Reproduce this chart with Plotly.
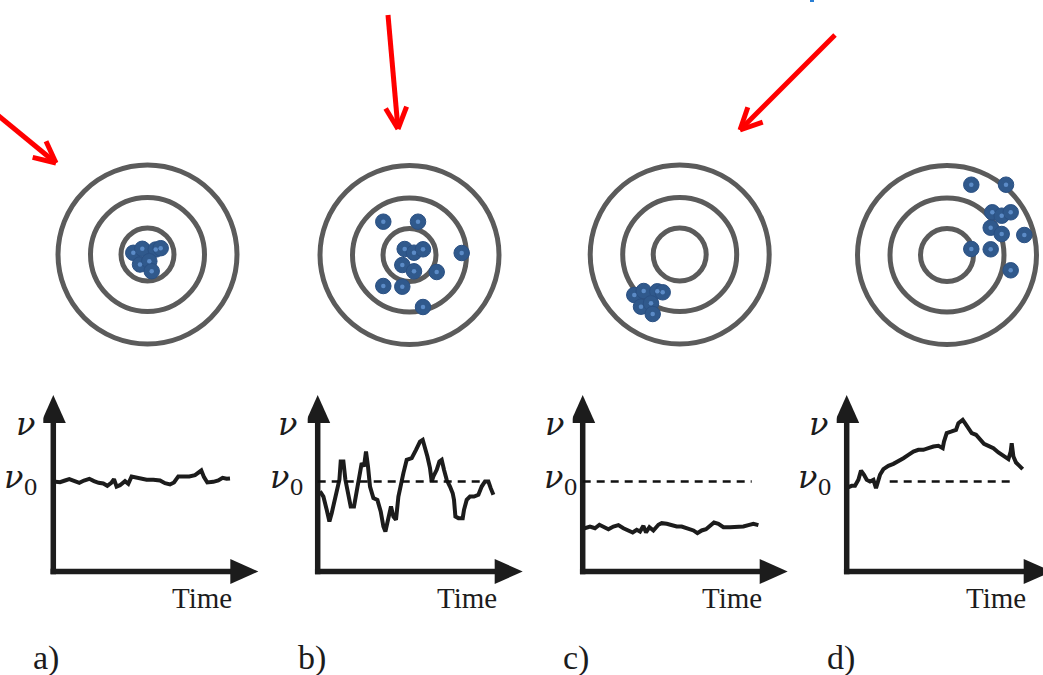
import math
import plotly.graph_objects as go

W, H = 1043, 675

# ---------------- data ----------------
# target rings (radius, same units as the hit offsets)
ring_radii = [89.5, 57.0, 26.5]

# hit positions relative to the bullseye (x right, y up)
hits_a_x = [-14.2, -5.2, 8.2, 13.2, -7.5, 1.8, 4.2]
hits_a_y = [1.7, 5.7, 5.0, 6.3, -10.0, -6.7, -16.7]

hits_b_x = [-26.2, 8.5, -4.8, 4.5, 13.5, 52.2, -7.2, 4.5, 27.2, -26.2, -7.2, 13.5]
hits_b_y = [33.3, 33.3, 6.0, 2.3, 5.7, 2.0, -10.0, -16.3, -17.0, -31.0, -31.7, -52.0]

hits_c_x = [-45.4, -36.0, -22.4, -17.0, -38.7, -28.7, -27.0]
hits_c_y = [-40.5, -36.5, -36.8, -37.8, -52.2, -48.8, -59.5]

hits_d_x = [24.3, 59.0, 45.3, 54.7, 63.7, 43.7, 54.7, 77.3, 24.3, 43.7, 63.7, 102.0]
hits_d_y = [70.3, 70.3, 42.7, 39.3, 42.7, 27.3, 21.0, 20.0, 6.0, 5.7, -15.3, 38.0]

# time series (nu0 = 1)
time_a = [0.0, 1.7, 6.7, 11.7, 16.0, 20.7, 26.0, 30.7, 36.0, 40.7, 45.3, 50.0, 54.0, 58.3, 60.7,
          63.3, 66.7, 71.7, 75.0, 78.3, 83.3, 88.3, 93.3, 100.0, 106.7, 111.7, 116.7, 120.7,
          125.0, 130.0, 136.0, 141.7, 146.0, 148.0, 150.7, 154.0, 160.0, 165.0, 169.3, 173.3, 176.7]
nu_a = [1.000, 1.000, 0.993, 1.011, 1.026, 1.007, 0.985, 1.011, 1.030, 1.004, 0.985, 0.978, 0.952,
        0.989, 1.026, 0.944, 0.959, 1.004, 0.974, 1.056, 1.041, 1.026, 1.019, 1.019, 1.011,
        0.981, 0.967, 0.989, 1.056, 1.056, 1.056, 1.070, 1.107, 1.122, 1.048, 0.989, 0.996,
        1.011, 1.041, 1.030, 1.033]

time_b = [2.3, 5.7, 9.0, 11.7, 14.0, 16.3, 19.0, 21.7, 23.0, 25.7, 27.7, 30.7, 33.0, 36.3,
          39.0, 41.7, 44.0, 46.3, 48.3, 50.3, 52.3, 55.7, 59.7, 63.0, 65.7, 67.7, 70.7, 73.3,
          75.7, 78.3, 80.7, 83.0, 85.7, 89.0, 94.0, 98.3, 102.3, 105.0, 107.3, 109.7, 112.3,
          114.0, 115.7, 119.0, 121.7, 124.0, 126.3, 129.0, 132.3, 135.0, 136.3, 137.7, 140.7,
          145.0, 146.3, 149.0, 152.3, 156.3, 160.7, 164.0, 167.3, 170.7, 173.0, 175.7]
nu_b = [0.889, 0.833, 0.685, 0.556, 0.648, 0.759, 0.907, 1.019, 1.222, 1.222, 1.019, 0.870,
        0.722, 0.722, 0.907, 1.056, 1.204, 1.167, 1.333, 1.167, 0.944, 0.815, 0.796, 0.667,
        0.500, 0.444, 0.611, 0.722, 0.611, 0.574, 0.833, 0.981, 1.093, 1.241, 1.259, 1.352,
        1.444, 1.463, 1.389, 1.278, 1.148, 1.000, 1.056, 1.130, 1.222, 1.241, 1.130, 1.019,
        0.944, 0.870, 0.796, 0.611, 0.593, 0.593, 0.685, 0.796, 0.833, 0.833, 0.852, 0.944,
        1.000, 1.000, 0.926, 0.852]

time_c = [0.0, 2.3, 7.3, 12.3, 16.7, 21.3, 25.7, 30.7, 35.7, 40.7, 45.7, 50.0, 54.0, 57.3, 60.7,
          63.3, 66.7, 70.7, 75.7, 79.0, 84.0, 89.0, 94.0, 99.0, 105.7, 110.7, 114.7, 119.0,
          123.3, 128.0, 131.3, 135.7, 140.7, 147.3, 154.0, 160.7, 165.7, 170.7, 175.7]
nu_c = [0.485, 0.481, 0.500, 0.481, 0.519, 0.493, 0.470, 0.500, 0.515, 0.481, 0.456, 0.433, 0.463,
        0.444, 0.507, 0.433, 0.493, 0.456, 0.519, 0.537, 0.530, 0.511, 0.500, 0.500, 0.481,
        0.456, 0.426, 0.456, 0.470, 0.507, 0.544, 0.530, 0.493, 0.493, 0.493, 0.500, 0.515,
        0.530, 0.515]

time_d = [0.0, 1.7, 5.0, 8.3, 11.7, 14.3, 17.3, 20.0, 23.3, 26.7, 29.3, 31.7, 33.3, 36.7, 41.7,
          46.7, 51.7, 56.7, 61.7, 66.7, 71.7, 76.7, 81.7, 86.7, 91.7, 96.0, 97.3, 100.0, 105.0,
          109.3, 111.7, 116.0, 118.3, 121.7, 125.0, 129.3, 133.3, 137.3, 141.7, 146.7, 151.7,
          156.7, 161.7, 164.0, 165.0, 166.7, 169.3, 171.7, 176.0]
nu_d = [0.937, 0.937, 0.952, 0.952, 1.019, 1.122, 1.074, 1.019, 1.000, 1.019, 0.926, 1.000, 1.074,
        1.137, 1.174, 1.196, 1.222, 1.259, 1.296, 1.333, 1.352, 1.352, 1.370, 1.389, 1.396,
        1.370, 1.444, 1.537, 1.556, 1.574, 1.648, 1.685, 1.648, 1.593, 1.537, 1.519, 1.470,
        1.419, 1.396, 1.370, 1.322, 1.285, 1.248, 1.333, 1.426, 1.278, 1.211, 1.185, 1.137]

nu0 = 1.0
panel_labels = ["a)", "b)", "c)", "d)"]

# ---------------- layout geometry ----------------
target_centers = [(147.5, 254.5), (409.5, 255.0), (679.7, 254.5), (947.0, 255.0)]
panel_origins = [53.3, 317.7, 582.7, 846.7]      # x pixel of each nu-axis
Y0 = 571.5                                        # pixel row of the time axes
PXU = 90.0                                        # pixels per nu unit
T_TIP = 205.0
NU_TIP = 1.96
dash_spans = [None, (0, 166), (0, 169), (43, 168)]
nu_label_dx = [-28, -30, -28, -28]
nu0_label_dx = [-13, -12, -3, -13]

hits = [(hits_a_x, hits_a_y), (hits_b_x, hits_b_y), (hits_c_x, hits_c_y), (hits_d_x, hits_d_y)]
series = [(time_a, nu_a), (time_b, nu_b), (time_c, nu_c), (time_d, nu_d)]

RING_COL = "#5b5b5b"
DOT_COL = "#30598c"
DOT_HI = "#5b8bc7"
INK = "#1c1c1c"
FONT = "Liberation Serif"
GREEK_FONT = "DejaVu Serif"

fig = go.Figure()
layout = dict(width=W, height=H, margin=dict(l=0, r=0, t=0, b=0), autosize=False,
              paper_bgcolor="white", plot_bgcolor="rgba(0,0,0,0)", showlegend=False)
shapes = []
annotations = []


def hidden_axis(domain, rng, **kw):
    d = dict(domain=domain, range=rng, visible=False, fixedrange=True,
             showgrid=False, zeroline=False)
    d.update(kw)
    return d


def px_to_paper(px, py):
    return px / W, 1 - py / H


# ---- targets ----
for i, ((cx, cy), (hx, hy)) in enumerate(zip(target_centers, hits)):
    k = i + 1
    xa = "x" if k == 1 else f"x{k}"
    ya = "y" if k == 1 else f"y{k}"
    x_left, x_right = cx - 100, min(cx + 100, W)
    layout["xaxis" if k == 1 else f"xaxis{k}"] = hidden_axis(
        [x_left / W, x_right / W], [-100, x_right - cx], anchor=ya)
    layout["yaxis" if k == 1 else f"yaxis{k}"] = hidden_axis(
        [1 - (cy + 100) / H, 1 - (cy - 100) / H], [-100, 100], anchor=xa)
    for r in ring_radii:
        shapes.append(dict(type="circle", xref=xa, yref=ya, x0=-r, x1=r, y0=-r, y1=r,
                           line=dict(color=RING_COL, width=5), layer="below"))
    fig.add_trace(go.Scatter(x=hx, y=hy, xaxis=xa, yaxis=ya, mode="markers",
                             cliponaxis=False, hoverinfo="skip",
                             marker=dict(size=15.5, color=DOT_COL,
                                         line=dict(color="#2a5083", width=1))))
    fig.add_trace(go.Scatter(x=hx, y=hy, xaxis=xa, yaxis=ya, mode="markers",
                             cliponaxis=False, hoverinfo="skip",
                             marker=dict(size=4.5, color=DOT_HI, line=dict(width=0))))

# ---- time panels ----
for i, (X0, (tt, vv)) in enumerate(zip(panel_origins, series)):
    k = i + 5
    xa, ya = f"x{k}", f"y{k}"
    x_left, x_right = X0 - 10, min(X0 + 215, W)
    layout[f"xaxis{k}"] = hidden_axis([x_left / W, x_right / W], [-10, x_right - X0], anchor=ya)
    y_top, y_bot = Y0 - 2.0 * PXU, Y0 + 0.2 * PXU
    layout[f"yaxis{k}"] = hidden_axis([1 - y_bot / H, 1 - y_top / H], [-0.2, 2.0], anchor=xa)

    axw = 5.5
    # nu axis
    shapes.append(dict(type="line", xref=xa, yref=ya, x0=0, x1=0,
                       y0=-axw / 2 / PXU, y1=NU_TIP - 20 / PXU,
                       line=dict(color=INK, width=axw)))
    shapes.append(dict(type="path", xref=xa, yref=ya,
                       path=f"M0,{NU_TIP} L-12.5,{NU_TIP - 28 / PXU} L12.5,{NU_TIP - 28 / PXU} Z",
                       fillcolor=INK, line=dict(width=0)))
    # time axis
    shapes.append(dict(type="line", xref=xa, yref=ya, x0=-axw / 2, x1=T_TIP - 20,
                       y0=0, y1=0, line=dict(color=INK, width=axw)))
    shapes.append(dict(type="path", xref=xa, yref=ya,
                       path=f"M{T_TIP},0 L{T_TIP - 28},{12.5 / PXU} L{T_TIP - 28},{-12.5 / PXU} Z",
                       fillcolor=INK, line=dict(width=0)))
    # reference level
    if dash_spans[i] is not None:
        a, b = dash_spans[i]
        shapes.append(dict(type="line", xref=xa, yref=ya, x0=a, x1=b, y0=nu0, y1=nu0,
                           line=dict(color="#111111", width=2.4, dash="8px,6px")))
    fig.add_trace(go.Scatter(x=tt, y=vv, xaxis=xa, yaxis=ya, mode="lines", hoverinfo="skip",
                             cliponaxis=False, line=dict(color=INK, width=4)))

    def ann(dx, nu, text, size, xanchor, family=FONT):
        px, py = px_to_paper(X0 + dx, Y0 - nu * PXU)
        annotations.append(dict(xref="paper", yref="paper", x=px, y=py, text=text,
                                showarrow=False, xanchor=xanchor, yanchor="middle",
                                font=dict(family=family, size=size, color=INK)))

    ann(nu_label_dx[i], 1.64, "<i>ν</i>", 32, "center", GREEK_FONT)
    ann(nu0_label_dx[i], nu0 + 0.03, "<i>ν</i><sub>0</sub>", 32, "right", GREEK_FONT)
    ann(181, -0.29, "Time", 29, "right")
    ann(-22, -0.965, panel_labels[i], 34, "left")

# ---- overlay (pixel frame) for the pointer arrows ----
layout["xaxis9"] = hidden_axis([0, 1], [0, W], anchor="y9")
layout["yaxis9"] = hidden_axis([0, 1], [H, 0], anchor="x9")
fig.add_trace(go.Scatter(x=[0], y=[0], xaxis="x9", yaxis="y9", mode="markers",
                         marker=dict(size=1, opacity=0), hoverinfo="skip"))

pointer_arrows = [((-6, 112), (56, 163)), ((388, 15), (398, 129)), ((835, 35), (740, 130))]
RED = "#ff0000"
for (x0, y0), (x1, y1) in pointer_arrows:
    shapes.append(dict(type="line", xref="x9", yref="y9", x0=x0, y0=y0, x1=x1, y1=y1,
                       line=dict(color=RED, width=5)))
    ang = math.atan2(y1 - y0, x1 - x0)
    for s in (-1, 1):
        a = ang + math.pi + s * math.radians(26)
        shapes.append(dict(type="line", xref="x9", yref="y9", x0=x1, y0=y1,
                           x1=x1 + 24 * math.cos(a), y1=y1 + 24 * math.sin(a),
                           line=dict(color=RED, width=5)))
# small blue fragment at the top edge
shapes.append(dict(type="rect", xref="x9", yref="y9", x0=810, x1=814, y0=0, y1=2,
                   fillcolor="#2a7fd4", line=dict(width=0)))

layout["shapes"] = shapes
layout["annotations"] = annotations
fig.update_layout(**layout)
fig.write_html("out.html", config={"displayModeBar": False},
               post_script="document.body.style.margin='0px';"
                           "document.body.style.overflow='hidden';")
